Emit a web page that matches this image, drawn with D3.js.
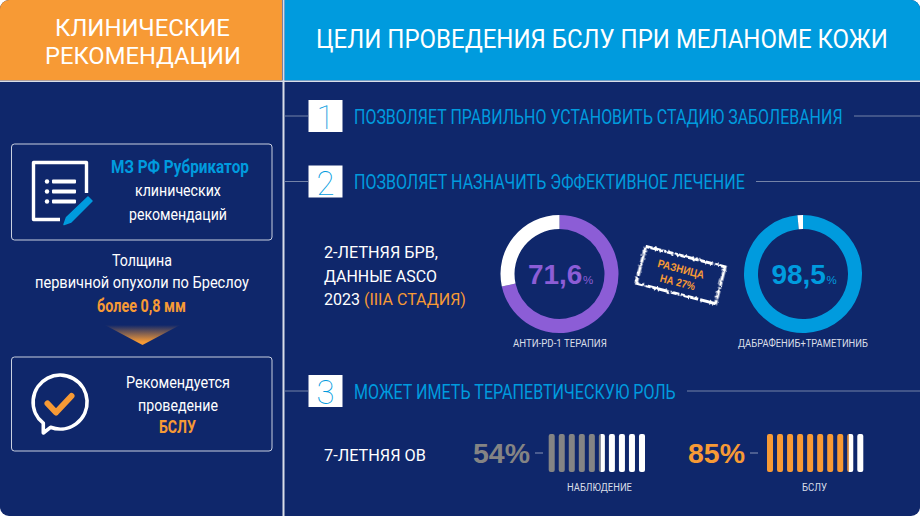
<!DOCTYPE html>
<html>
<head>
<meta charset="utf-8">
<script src="https://cdn.jsdelivr.net/npm/d3@7/dist/d3.min.js"></script>
<style>
  html, body { margin: 0; padding: 0; background: #fff; }
  svg { display: block; }
</style>
</head>
<body>
<svg id="chart" width="920" height="516"></svg>
<script>
const donutLabels = ['АНТИ-PD-1 ТЕРАПИЯ', 'ДАБРАФЕНИБ+ТРАМЕТИНИБ']
const donutValues = [71.6, 98.5]
const donutTexts = ['71,6', '98,5']
const barLabels = ['НАБЛЮДЕНИЕ', 'БСЛУ']
const barValues = [54, 85]
const goals = [
  'ПОЗВОЛЯЕТ ПРАВИЛЬНО УСТАНОВИТЬ СТАДИЮ ЗАБОЛЕВАНИЯ',
  'ПОЗВОЛЯЕТ НАЗНАЧИТЬ ЭФФЕКТИВНОЕ ЛЕЧЕНИЕ',
  'МОЖЕТ ИМЕТЬ ТЕРАПЕВТИЧЕСКУЮ РОЛЬ'
]

const navy = '#0f276b', blue = '#009bde', orange = '#f79a35', purple = '#8c5dd6', grey = '#848484'
const sans = 'Roboto, "Liberation Sans", sans-serif'
const arial = '"Liberation Sans", Arial, sans-serif'

const svg = d3.select('#chart')
const defs = svg.append('defs')

defs.append('clipPath').attr('id', 'page')
  .append('rect').attr('width', 920).attr('height', 516).attr('rx', 9)

const arrow = defs.append('linearGradient').attr('id', 'arrow')
  .attr('x1', 0).attr('x2', 0).attr('y1', 0).attr('y2', 1)
arrow.append('stop').attr('offset', 0).attr('stop-color', navy)
arrow.append('stop').attr('offset', 0.85).attr('stop-color', orange)

const rough = defs.append('filter').attr('id', 'rough')
  .attr('x', '-10%').attr('y', '-20%').attr('width', '120%').attr('height', '140%')
rough.append('feTurbulence').attr('type', 'fractalNoise').attr('baseFrequency', 0.35).attr('numOctaves', 2).attr('seed', 4)
rough.append('feDisplacementMap').attr('in', 'SourceGraphic').attr('scale', 3.5)

const root = svg.append('g').attr('clip-path', 'url(#page)')

// the original font is condensed, so squeeze each text to its measured width
function label(x, y, txt, size, color, width, opts = {}) {
  const t = (opts.parent || root).append('text')
    .attr('font-size', size)
    .attr('fill', color)
    .attr('font-weight', opts.weight || 400)
    .style('font-family', opts.family || sans)
  if (Array.isArray(txt)) {
    txt.forEach(([s, c]) => t.append('tspan').attr('fill', c).text(s))
  } else {
    t.text(txt)
  }
  const len = t.node().getComputedTextLength()
  const left = opts.middle ? x - width / 2 : x
  t.attr('transform', `translate(${left},${y}) scale(${width / len},1)`)
  return t
}

// background
root.append('rect').attr('width', 920).attr('height', 516).attr('fill', navy)
root.append('rect').attr('width', 282).attr('height', 80.5).attr('fill', orange)
root.append('rect').attr('x', 284.5).attr('width', 636).attr('height', 80.5).attr('fill', blue)
root.append('rect').attr('y', 80.5).attr('width', 920).attr('height', 1.5).attr('fill', '#d9dee8')
root.append('rect').attr('x', 282.5).attr('width', 2).attr('height', 516).attr('fill', '#d9dee8')

label(142.5, 36, 'КЛИНИЧЕСКИЕ', 24, '#fff', 175, {middle: true})
label(143, 64, 'РЕКОМЕНДАЦИИ', 24, '#fff', 196, {middle: true})
label(316, 48, 'ЦЕЛИ ПРОВЕДЕНИЯ БСЛУ ПРИ МЕЛАНОМЕ КОЖИ', 25, '#fff', 572)

// left column
const boxes = [[144, 96], [357, 94]]
boxes.forEach(([y, h]) => {
  root.append('rect').attr('x', 11.5).attr('y', y).attr('width', 260.5).attr('height', h)
    .attr('rx', 3).attr('fill', 'none').attr('stroke', '#c9d0e0').attr('stroke-width', 1)
})

root.append('path').attr('d', 'M60,219.5H33.5V162.5H86.5V193')
  .attr('fill', 'none').attr('stroke', '#fff').attr('stroke-width', 3.4).attr('stroke-linejoin', 'round')
d3.range(3).forEach(i => {
  const y = 181.5 + i * 10
  root.append('circle').attr('cx', 47).attr('cy', y).attr('r', 2.2).attr('fill', '#fff')
  root.append('rect').attr('x', 52).attr('y', y - 2).attr('width', 24).attr('height', 4).attr('rx', 1).attr('fill', '#fff')
})
root.append('path').attr('d', 'M88,197l4,4l-21,21l-7,2.5l2.5,-7z').attr('fill', blue)
  .attr('stroke', blue).attr('stroke-width', 1.5).attr('stroke-linejoin', 'round')

label(180, 173, 'МЗ РФ Рубрикатор', 18, blue, 138, {middle: true, weight: 700})
label(178, 196, 'клинических', 17, '#fff', 86, {middle: true})
label(178, 220, 'рекомендаций', 17, '#fff', 98, {middle: true})
label(142, 266, 'Толщина', 17, '#fff', 60, {middle: true})
label(142, 288, 'первичной опухоли по Бреслоу', 17, '#fff', 214, {middle: true})
label(141.5, 312, 'более 0,8 мм', 17.5, orange, 89, {middle: true, weight: 700})

root.append('path').attr('d', 'M105,325H180L142.5,345Z').attr('fill', 'url(#arrow)')

root.append('path')
  .attr('d', 'M43.3,423.2V433L50.5,427.3A27,27 0 1 0 43.3,423.2Z')
  .attr('fill', 'none').attr('stroke', '#fff').attr('stroke-width', 3.6).attr('stroke-linejoin', 'round')
root.append('path').attr('d', 'M47.5,403.5L56,412.5L71.5,396')
  .attr('fill', 'none').attr('stroke', orange).attr('stroke-width', 6).attr('stroke-linecap', 'round').attr('stroke-linejoin', 'round')

label(178, 388, 'Рекомендуется', 17, '#fff', 104, {middle: true})
label(178, 411, 'проведение', 17, '#fff', 80, {middle: true})
label(177.5, 433, 'БСЛУ', 17.5, orange, 37, {middle: true, weight: 700})

// numbered goals
const goalY = [116, 181.5, 391]
const goalEnd = [843, 745, 676]
goals.forEach((g, i) => {
  const y = goalY[i]
  root.append('line').attr('x1', 284.5).attr('x2', 308).attr('y1', y).attr('y2', y).attr('stroke', '#7483a8')
  root.append('line').attr('x1', goalEnd[i] + 11).attr('x2', 920).attr('y1', y).attr('y2', y).attr('stroke', '#7483a8')
  root.append('rect').attr('x', 308.5).attr('y', y - 16).attr('width', 34).attr('height', 32).attr('fill', '#fff')
  root.append('text').attr('x', 325.5).attr('y', y + 13).attr('text-anchor', 'middle')
    .attr('font-size', 33).attr('font-weight', 100).attr('fill', blue).style('font-family', sans)
    .text(i + 1)
  label(354, y + 7.5, g, 19.5, blue, goalEnd[i] - 354)
})

// 2-year block
label(324, 258, '2-ЛЕТНЯЯ БРВ,', 17, '#fff', 114)
label(324, 281.5, 'ДАННЫЕ ASCO', 17, '#fff', 113)
label(324, 305, [['2023 ', '#fff'], ['(IIIA СТАДИЯ)', orange]], 17, '#fff', 142)

const donutX = d3.scalePoint().domain(donutLabels).range([559.5, 803])
const donutColors = d3.scaleOrdinal().domain(donutLabels).range([purple, blue])
const pie = d3.pie().sort(null)
const arc = d3.arc().innerRadius(45).outerRadius(59)

donutLabels.forEach((name, i) => {
  const g = root.append('g').attr('transform', `translate(${donutX(name)},274)`)
  g.selectAll('path').data(pie([donutValues[i], 100 - donutValues[i]])).join('path')
    .attr('d', arc)
    .attr('fill', (d, j) => j === 0 ? donutColors(name) : '#fff')
  const t = g.append('text').attr('x', 1).attr('y', 10).attr('text-anchor', 'middle')
    .attr('fill', donutColors(name)).attr('font-weight', 700).attr('font-size', 28)
    .style('font-family', arial)
  t.append('tspan').text(donutTexts[i])
  t.append('tspan').attr('dx', 0.5).attr('font-size', 11.5).attr('font-weight', 400).text('%')
  label(donutX(name) + (i ? 0 : 0.5), 347, name, 11.5, '#d9dee8', i ? 130 : 94, {middle: true})
})

// stamp
const stamp = root.append('g').attr('transform', 'translate(680.5,275.5) rotate(14.5)')
stamp.append('rect').attr('x', -41).attr('y', -19.5).attr('width', 82).attr('height', 38)
  .attr('fill', 'none').attr('stroke', '#fff').attr('stroke-width', 3)
  .attr('stroke-dasharray', '18 1.5 9 2 24 1 14 2 30 1.5 12 1 20 2').attr('filter', 'url(#rough)')
label(-1, -2.5, 'РАЗНИЦА', 11, orange, 48, {middle: true, weight: 700, family: arial, parent: stamp})
label(-1, 11, 'НА 27%', 11, orange, 36, {middle: true, weight: 700, family: arial, parent: stamp})

// 7-year block
label(324, 461, '7-ЛЕТНЯЯ ОВ', 17, '#fff', 102)

const barStart = [548.7, 767]
const barSteps = d3.range(10)
const barColors = [grey, orange]
const pctText = [473, 688]

barLabels.forEach((name, i) => {
  const x = d3.scaleLinear().domain([0, 100]).range([barStart[i], barStart[i] + 96.3])
  const band = d3.scaleBand().domain(barSteps).range([barStart[i], barStart[i] + 96.3]).paddingInner(0.4).paddingOuter(0)
  const y = d3.scaleLinear().domain([0, 1]).range([472, 434])

  // split at the value: coloured part left of it, white part right of it
  const parts = [
    {id: 'fill' + i, from: x(0) - 1, to: x(barValues[i]), color: barColors[i]},
    {id: 'rest' + i, from: x(barValues[i]), to: x(100) + 1, color: '#fff'}
  ]
  parts.forEach(p => {
    defs.append('clipPath').attr('id', p.id).append('rect')
      .attr('x', p.from).attr('y', y(1)).attr('width', p.to - p.from).attr('height', y(0) - y(1))
    root.append('g').attr('clip-path', `url(#${p.id})`).selectAll('rect').data(barSteps).join('rect')
      .attr('x', d => band(d)).attr('y', y(1)).attr('width', band.bandwidth()).attr('height', y(0) - y(1))
      .attr('rx', 2).attr('fill', p.color)
  })

  label(pctText[i], 463, barValues[i] + '%', 28, barColors[i], 57, {weight: 700, family: arial})
  root.append('line').attr('x1', pctText[i] + 62).attr('x2', pctText[i] + 70).attr('y1', 453).attr('y2', 453).attr('stroke', '#7483a8').attr('stroke-width', 1.2)
  label(i ? 814.5 : 599.5, 491, name, 11.5, '#d9dee8', i ? 25 : 65, {middle: true})
})
</script>
</body>
</html>
